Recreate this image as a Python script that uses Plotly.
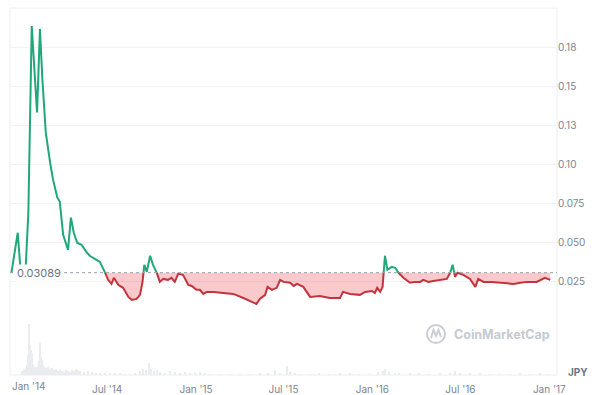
import plotly.graph_objects as go
import pandas as pd
import numpy as np

# ---------------- data ----------------
dates = [
    '2013-12-15', '2013-12-28', '2014-01-03', '2014-01-13', '2014-01-19', '2014-01-26',
    '2014-02-06', '2014-02-12', '2014-02-17', '2014-02-24', '2014-03-05', '2014-03-11',
    '2014-03-20', '2014-03-25', '2014-04-01', '2014-04-11', '2014-04-17', '2014-04-23',
    '2014-04-30', '2014-05-09', '2014-05-19', '2014-05-26', '2014-06-09', '2014-06-16',
    '2014-06-26', '2014-07-03', '2014-07-10', '2014-07-15', '2014-07-24', '2014-08-03',
    '2014-08-14', '2014-08-21', '2014-08-31', '2014-09-07', '2014-09-12', '2014-09-16',
    '2014-09-21', '2014-09-28', '2014-10-04', '2014-10-11', '2014-10-18', '2014-10-25',
    '2014-11-04', '2014-11-11', '2014-11-18', '2014-11-25', '2014-12-05', '2014-12-16',
    '2014-12-23', '2015-01-02', '2015-01-09', '2015-01-16', '2015-01-23', '2015-02-06',
    '2015-02-26', '2015-03-19', '2015-04-09', '2015-04-23', '2015-05-06', '2015-05-13',
    '2015-05-24', '2015-05-29', '2015-06-07', '2015-06-17', '2015-06-24', '2015-07-01',
    '2015-07-15', '2015-07-22', '2015-07-29', '2015-08-11', '2015-08-21', '2015-08-25',
    '2015-09-14', '2015-10-05', '2015-10-26', '2015-11-01', '2015-11-16', '2015-12-06',
    '2015-12-17', '2015-12-31', '2016-01-06', '2016-01-11', '2016-01-17', '2016-01-22',
    '2016-01-27', '2016-02-01', '2016-02-10', '2016-02-17', '2016-02-24', '2016-03-05',
    '2016-03-19', '2016-03-29', '2016-04-09', '2016-04-15', '2016-04-26', '2016-05-06',
    '2016-05-20', '2016-06-03', '2016-06-10', '2016-06-15', '2016-06-20', '2016-06-25',
    '2016-07-07', '2016-07-21', '2016-08-01', '2016-08-07', '2016-08-18', '2016-09-04',
    '2016-09-21', '2016-10-19', '2016-11-02', '2016-11-16', '2016-12-06', '2016-12-23',
    '2017-01-03',
]
prices = [
    0.03089, 0.0564, 0.0315, 0.0315, 0.0692, 0.1885,
    0.1333, 0.1865, 0.1545, 0.1205, 0.1013, 0.0904,
    0.0788, 0.0763, 0.0551, 0.0455, 0.0660, 0.0564,
    0.0500, 0.0487, 0.0442, 0.0417, 0.0391, 0.0378,
    0.0314, 0.0263, 0.0237, 0.0276, 0.0231, 0.0212,
    0.0154, 0.0135, 0.0141, 0.0167, 0.0244, 0.0359,
    0.0314, 0.0417, 0.0359, 0.0314, 0.0250, 0.0269,
    0.0263, 0.0276, 0.0250, 0.0301, 0.0295, 0.0231,
    0.0224, 0.0199, 0.0199, 0.0173, 0.0186, 0.0186,
    0.0179, 0.0173, 0.0147, 0.0128, 0.0109, 0.0141,
    0.0167, 0.0218, 0.0199, 0.0212, 0.0263, 0.0250,
    0.0244, 0.0224, 0.0237, 0.0218, 0.0167, 0.0154,
    0.0160, 0.0147, 0.0147, 0.0186, 0.0173, 0.0167,
    0.0186, 0.0192, 0.0179, 0.0212, 0.0186, 0.0218,
    0.0417, 0.0327, 0.0346, 0.0340, 0.0308, 0.0276,
    0.0244, 0.0250, 0.0250, 0.0263, 0.0250, 0.0256,
    0.0263, 0.0269, 0.0308, 0.0359, 0.0282, 0.0308,
    0.0295, 0.0269, 0.0218, 0.0269, 0.0250, 0.0250,
    0.0244, 0.0237, 0.0244, 0.0250, 0.0250, 0.0276,
    0.0263,
]
baseline = 0.03089

vol_dates = [
    '2014-01-06', '2014-01-10', '2014-01-14', '2014-01-16', '2014-01-18', '2014-01-20',
    '2014-01-22', '2014-01-24', '2014-01-26', '2014-01-28', '2014-01-30', '2014-02-01',
    '2014-02-04', '2014-02-06', '2014-02-08', '2014-02-10', '2014-02-12', '2014-02-14',
    '2014-02-16', '2014-02-18', '2014-02-20', '2014-02-24', '2014-02-28', '2014-03-04',
    '2014-03-08', '2014-03-13', '2014-03-17', '2014-03-21', '2014-03-25', '2014-03-29',
    '2014-04-02', '2014-04-07', '2014-04-11', '2014-04-15', '2014-04-19', '2014-04-23',
    '2014-04-27', '2014-05-01', '2014-05-06', '2014-05-14', '2014-05-22', '2014-05-30',
    '2014-06-08', '2014-06-16', '2014-06-26', '2014-07-07', '2014-07-17', '2014-07-27',
    '2014-08-07', '2014-08-17', '2014-08-27', '2014-09-07', '2014-09-13', '2014-09-19',
    '2014-09-25', '2014-09-30', '2014-10-06', '2014-10-12', '2014-10-18', '2014-10-29',
    '2014-11-08', '2014-11-18', '2014-11-29', '2014-12-09', '2014-12-19', '2014-12-30',
    '2015-01-09', '2015-01-19', '2015-01-29', '2015-02-19', '2015-03-12', '2015-04-02',
    '2015-04-22', '2015-05-13', '2015-05-30', '2015-06-13', '2015-06-23', '2015-07-08',
    '2015-07-14', '2015-07-24', '2015-08-04', '2015-08-24', '2015-09-13', '2015-10-04',
    '2015-10-25', '2015-11-15', '2015-12-05', '2015-12-26', '2016-01-12', '2016-01-22',
    '2016-01-28', '2016-02-05', '2016-02-16', '2016-02-26', '2016-03-18', '2016-04-07',
    '2016-04-28', '2016-05-19', '2016-06-09', '2016-06-19', '2016-06-30', '2016-07-20',
    '2016-08-10', '2016-08-31', '2016-09-20', '2016-10-11', '2016-11-01', '2016-11-22',
    '2016-12-13', '2016-12-29',
]
vol_values = [
    4, 6, 7, 10, 20, 51,
    30, 25, 22, 10, 8, 7,
    8, 6, 9, 14, 32, 18,
    15, 10, 8, 7, 8, 6,
    7, 5, 6, 4, 5, 4,
    3, 5, 4, 3, 5, 4,
    6, 5, 4, 3, 4, 3,
    2, 2, 2, 1.5, 2, 1.5,
    1, 1, 2, 4, 6, 5,
    12, 6, 4, 5, 3, 2,
    4, 3, 2, 3, 2, 3,
    3, 2, 1, 1, 1, 1,
    1, 1.5, 2, 5, 2, 9,
    3, 2, 1, 1, 1.5, 1,
    2, 1.5, 1, 1.5, 3, 4,
    6, 3, 2, 2, 1.5, 1.5,
    1, 2, 2, 4, 2, 1.5,
    2, 1, 1.5, 1, 1.5, 1,
    1.5, 1,
]

x_tick_dates = ['2014-01-01', '2014-07-01', '2015-01-01', '2015-07-01',
                '2016-01-01', '2016-07-01', '2017-01-01']
x_tick_labels = ["Jan '14", "Jul '14", "Jan '15", "Jul '15", "Jan '16", "Jul '16", "Jan '17"]
y_tick_vals = [0, 0.025, 0.05, 0.075, 0.1, 0.125, 0.15, 0.175, 0.2]
y_tick_labels = ['', '0.025', '0.050', '0.075', '0.10', '0.13', '0.15', '0.18', '']

GREEN = '#1fa87a'
RED = '#c3343d'
FILL = 'rgba(234,57,67,0.27)'
LABEL = '#7d8493'
FONT = 'Inter, Roboto, sans-serif'

# ---------- split the series at baseline crossings (for colouring) ----------
t = pd.to_datetime(dates).values.astype('int64').astype(float)
p = np.array(prices, dtype=float)
ts, ps = [], []
for i in range(len(p)):
    ts.append(t[i]); ps.append(p[i])
    if i < len(p) - 1 and (p[i] - baseline) * (p[i + 1] - baseline) < 0:
        f = (baseline - p[i]) / (p[i + 1] - p[i])
        ts.append(t[i] + f * (t[i + 1] - t[i])); ps.append(baseline)
xs = pd.to_datetime(np.array(ts).astype('int64'))
ps = np.array(ps)
green_y = [v if v >= baseline - 1e-12 else None for v in ps]
red_y = [v if v <= baseline + 1e-12 else None for v in ps]

fig = go.Figure()

# volume bars
fig.add_trace(go.Bar(x=pd.to_datetime(vol_dates), y=vol_values, yaxis='y2',
                     marker=dict(color='#ebecef', line=dict(width=0)),
                     width=2 * 86400000, hoverinfo='skip'))

# red fill between price and baseline
fig.add_trace(go.Scatter(x=xs, y=[baseline] * len(xs), mode='lines',
                         line=dict(width=0), hoverinfo='skip'))
fig.add_trace(go.Scatter(x=xs, y=np.minimum(ps, baseline), mode='lines',
                         line=dict(width=0), fill='tonexty', fillcolor=FILL,
                         hoverinfo='skip'))
# coloured lines
fig.add_trace(go.Scatter(x=xs, y=red_y, mode='lines', connectgaps=False,
                         line=dict(color=RED, width=2)))
fig.add_trace(go.Scatter(x=xs, y=green_y, mode='lines', connectgaps=False,
                         line=dict(color=GREEN, width=2)))

W, H = 600, 395
ML, MR, MT, MB = 10, 43, 8, 20
PW, PH = W - ML - MR, H - MT - MB


def px(xp):
    return (xp - ML) / PW


def py(yp):
    return (H - MB - yp) / PH


split = py(321)

shapes = [
    dict(type='line', xref='paper', yref='y', x0=0, x1=1, y0=baseline, y1=baseline,
         line=dict(color='#9aa0ab', width=1, dash='dot'), layer='above'),
    dict(type='rect', xref='paper', yref='paper', x0=0, x1=1, y0=0, y1=1,
         line=dict(color='#eceef2', width=1), layer='below'),
    dict(type='circle', xref='paper', yref='paper', x0=px(427), x1=px(445),
         y0=py(343), y1=py(325), line=dict(color='#c9cdd4', width=2)),
    dict(type='path', xref='paper', yref='paper',
         path=f'M {px(431)} {py(338)} L {px(433.5)} {py(330)} L {px(436)} {py(336)} '
              f'L {px(438.5)} {py(330)} L {px(441)} {py(337)}',
         line=dict(color='#c9cdd4', width=2)),
]

annotations = [
    dict(xref='paper', yref='y', x=px(15), y=baseline, text='0.03089',
         showarrow=False, xanchor='left', yanchor='middle',
         font=dict(size=11, color='#6b7383', family=FONT), bgcolor='white',
         borderpad=1),
    dict(xref='paper', yref='paper', x=px(452), y=py(334), text='<b>CoinMarketCap</b>',
         showarrow=False, xanchor='left', yanchor='middle',
         font=dict(size=12.5, color='#c6cad1', family=FONT)),
    dict(xref='paper', yref='paper', x=px(566), y=py(372), text='<b>JPY</b>',
         showarrow=False, xanchor='left', yanchor='middle',
         font=dict(size=10, color='#6b7383', family=FONT)),
    # first date label, nudged right like the reference keeps it inside the frame
    dict(xref='x', yref='paper', x=x_tick_dates[0], y=py(386), text=x_tick_labels[0],
         showarrow=False, xanchor='center', yanchor='middle', xshift=9,
         font=dict(size=10, color=LABEL, family=FONT)),
]

fig.update_layout(
    template='none',
    width=W, height=H,
    margin=dict(l=ML, r=MR, t=MT, b=MB, autoexpand=False),
    paper_bgcolor='white', plot_bgcolor='white',
    showlegend=False, bargap=0,
    font=dict(family=FONT),
    xaxis=dict(type='date', range=['2013-12-12', '2017-01-17'],
               tickvals=x_tick_dates[1:], ticktext=x_tick_labels[1:], automargin=False,
               showgrid=False, zeroline=False, showline=False,
               ticks='outside', ticklen=5, tickcolor='rgba(0,0,0,0)',
               tickfont=dict(size=10, color=LABEL), anchor='y2'),
    yaxis=dict(domain=[split, 1], range=[0, 0.2], side='right', automargin=False,
               tickvals=y_tick_vals, ticktext=y_tick_labels,
               showgrid=True, gridcolor='#f1f2f4', gridwidth=1,
               zeroline=False, showline=False, ticks='',
               tickfont=dict(size=10, color=LABEL), anchor='x'),
    yaxis2=dict(domain=[0, split], range=[0, 54], showgrid=False, automargin=False,
                zeroline=False, showticklabels=False, anchor='x'),
    shapes=shapes, annotations=annotations,
)

fig.write_html('out.html')
